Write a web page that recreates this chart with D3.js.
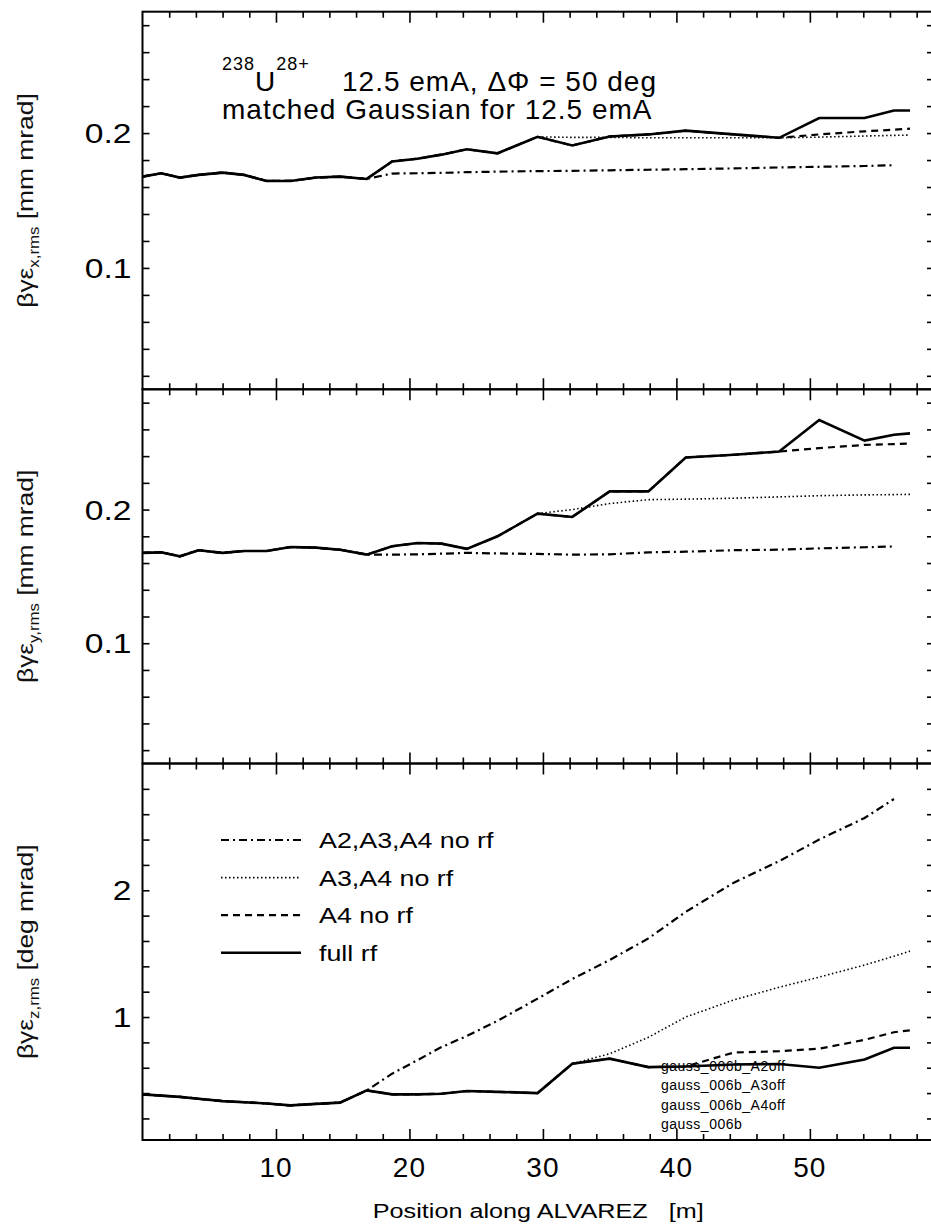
<!DOCTYPE html>
<html lang="en">
<head>
    <meta charset="UTF-8">
    <title>Emittance along ALVAREZ</title>
    <style>
        body { margin: 0; background: #fff; }
        svg { display: block; font-family: "Liberation Sans", Arial, sans-serif; }
    </style>
</head>
<body>
    <div class="canvas"></div>

    <script src="https://cdnjs.cloudflare.com/ajax/libs/d3/7.8.5/d3.min.js"></script>
    <script>
        // positions along the Alvarez [m], shared by all runs
        const position = [0, 1.4, 2.8, 4.2, 6, 7.6, 9.3, 11.1, 13, 14.8, 16.8, 18.7, 20.6, 22.4, 24.3, 26.6, 29.6, 32.2, 35, 37.9, 40.7, 44.3, 47.7, 50.7, 54.1, 56.3, 57.5];

        // horizontal emittance [mm mrad]
        const xFullRf = [0.1677, 0.1702, 0.167, 0.169, 0.1707, 0.169, 0.1645, 0.1645, 0.167, 0.1677, 0.166, 0.179, 0.181, 0.184, 0.188, 0.185, 0.1972, 0.1908, 0.1975, 0.199, 0.2018, 0.199, 0.1965, 0.2112, 0.2112, 0.2167, 0.2167];
        const xA4NoRf = [0.1677, 0.1702, 0.167, 0.169, 0.1707, 0.169, 0.1645, 0.1645, 0.167, 0.1677, 0.166, 0.179, 0.181, 0.184, 0.188, 0.185, 0.1972, 0.1908, 0.1975, 0.199, 0.2018, 0.199, 0.1965, 0.199, 0.2013, 0.2025, 0.2033];
        const xA3A4NoRf = [0.1677, 0.1702, 0.167, 0.169, 0.1707, 0.169, 0.1645, 0.1645, 0.167, 0.1677, 0.166, 0.179, 0.181, 0.184, 0.188, 0.185, 0.1972, 0.1968, 0.1968, 0.1965, 0.1965, 0.1965, 0.1965, 0.197, 0.1978, 0.1983, 0.1985];
        const xA2A3A4NoRf = [0.1677, 0.1702, 0.167, 0.169, 0.1707, 0.169, 0.1645, 0.1645, 0.167, 0.1677, 0.166, 0.170, 0.1702, 0.1705, 0.171, 0.1714, 0.1718, 0.172, 0.1724, 0.1728, 0.1732, 0.1738, 0.1745, 0.175, 0.1756, 0.1762, null];

        // vertical emittance [mm mrad]
        const yFullRf = [0.1676, 0.168, 0.165, 0.1696, 0.1676, 0.169, 0.169, 0.172, 0.1715, 0.170, 0.1663, 0.1725, 0.175, 0.1745, 0.1706, 0.180, 0.197, 0.1945, 0.2136, 0.2136, 0.239, 0.241, 0.2434, 0.267, 0.2516, 0.256, 0.257];
        const yA4NoRf = [0.1676, 0.168, 0.165, 0.1696, 0.1676, 0.169, 0.169, 0.172, 0.1715, 0.170, 0.1663, 0.1725, 0.175, 0.1745, 0.1706, 0.180, 0.197, 0.1945, 0.2136, 0.2136, 0.239, 0.241, 0.2434, 0.246, 0.2484, 0.249, 0.2494];
        const yA3A4NoRf = [0.1676, 0.168, 0.165, 0.1696, 0.1676, 0.169, 0.169, 0.172, 0.1715, 0.170, 0.1663, 0.1725, 0.175, 0.1745, 0.1706, 0.180, 0.197, 0.200, 0.2045, 0.2074, 0.2078, 0.2085, 0.2095, 0.2104, 0.211, 0.2112, 0.2114];
        const yA2A3A4NoRf = [0.1676, 0.168, 0.165, 0.1696, 0.1676, 0.169, 0.169, 0.172, 0.1715, 0.170, 0.1663, 0.1663, 0.1665, 0.167, 0.1676, 0.1672, 0.1668, 0.1663, 0.1665, 0.168, 0.1685, 0.1696, 0.170, 0.171, 0.1718, 0.1724, null];

        // longitudinal emittance [deg mrad]
        const zFullRf = [0.39, 0.38, 0.37, 0.355, 0.337, 0.328, 0.318, 0.303, 0.315, 0.325, 0.421, 0.39, 0.39, 0.395, 0.416, 0.41, 0.40, 0.632, 0.672, 0.605, 0.61, 0.625, 0.63, 0.60, 0.665, 0.758, 0.758];
        const zA4NoRf = [0.39, 0.38, 0.37, 0.355, 0.337, 0.328, 0.318, 0.303, 0.315, 0.325, 0.421, 0.39, 0.39, 0.395, 0.416, 0.41, 0.40, 0.632, 0.672, 0.605, 0.61, 0.72, 0.73, 0.75, 0.82, 0.88, 0.895];
        const zA3A4NoRf = [0.39, 0.38, 0.37, 0.355, 0.337, 0.328, 0.318, 0.303, 0.315, 0.325, 0.421, 0.39, 0.39, 0.395, 0.416, 0.41, 0.40, 0.632, 0.71, 0.84, 1.0, 1.135, 1.235, 1.315, 1.41, 1.48, 1.52];
        const zA2A3A4NoRf = [0.39, 0.38, 0.37, 0.355, 0.337, 0.328, 0.318, 0.303, 0.315, 0.325, 0.421, 0.553, 0.66, 0.763, 0.85, 0.97, 1.145, 1.30, 1.45, 1.62, 1.83, 2.06, 2.23, 2.40, 2.57, 2.72, null];

        const legendLabels = ["A2,A3,A4 no rf", "A3,A4 no rf", "A4 no rf", "full rf"];
        const runLabels = ["gauss_006b_A2off", "gauss_006b_A3off", "gauss_006b_A4off", "gauss_006b"];
        const xTickLabels = [10, 20, 30, 40, 50];
        const xMinorTicks = d3.range(2, 59, 2).filter(v => v % 10 !== 0);

        const width = 931, height = 1226;
        const left = 142.5, right = 934;
        const edges = [11.7, 389.3, 763.5, 1140];

        // line styles in legend order
        const styles = [
            { dash: "8,4,2,4", w: 2.2 },
            { dash: "1.5,2.5", w: 1.6 },
            { dash: "7,5", w: 2.2 },
            { dash: null, w: 2.6 }
        ];

        const panels = [
            { domain: [0.01, 0.29], minor: d3.range(1, 15).map(i => i * 0.02), major: [0.1, 0.2], fmt: d3.format(".1f"),
              sub: "x,rms", unit: " [mm mrad]", series: [xA2A3A4NoRf, xA3A4NoRf, xA4NoRf, xFullRf] },
            { domain: [0.01, 0.29], minor: d3.range(1, 15).map(i => i * 0.02), major: [0.1, 0.2], fmt: d3.format(".1f"),
              sub: "y,rms", unit: " [mm mrad]", series: [yA2A3A4NoRf, yA3A4NoRf, yA4NoRf, yFullRf] },
            { domain: [0.03, 3.0], minor: d3.range(1, 15).map(i => i * 0.2), major: [1, 2], fmt: d3.format("d"),
              sub: "z,rms", unit: " [deg mrad]", series: [zA2A3A4NoRf, zA3A4NoRf, zA4NoRf, zFullRf] }
        ];

        const svg = d3.select('.canvas')
            .append('svg')
            .attr('width', width)
            .attr('height', height);

        const x = d3.scaleLinear().domain([0, 59.3]).range([left, right]);

        const noDomain = g => g.select('.domain').remove();

        panels.forEach((p, i) => {
            const top = edges[i], bottom = edges[i + 1];
            const y = d3.scaleLinear().domain(p.domain).range([bottom, top]);
            const g = svg.append('g');

            g.append('rect')
                .attr('x', left).attr('y', top)
                .attr('width', right - left).attr('height', bottom - top)
                .attr('fill', 'none').attr('stroke', '#000').attr('stroke-width', 2);

            // x ticks on top and bottom edges of each panel, pointing inward
            [[d3.axisBottom, top], [d3.axisTop, bottom]].forEach(([axis, pos]) => {
                g.append('g').attr('transform', `translate(0,${pos})`)
                    .call(axis(x).tickValues(xMinorTicks).tickSize(6).tickFormat(''))
                    .call(noDomain);
                g.append('g').attr('transform', `translate(0,${pos})`)
                    .call(axis(x).tickValues(xTickLabels).tickSize(11).tickFormat(''))
                    .call(noDomain);
            });

            g.append('g').attr('transform', `translate(${left},0)`)
                .call(d3.axisRight(y).tickValues(p.minor).tickSize(7).tickFormat(''))
                .call(noDomain);
            g.append('g').attr('transform', `translate(${right},0)`)
                .call(d3.axisLeft(y).tickValues(p.minor).tickSize(7).tickFormat(''))
                .call(noDomain);
            g.selectAll('.tick line').attr('stroke-width', 1.6);

            g.selectAll('.ylab')
                .data(p.major)
                .enter()
                .append('text')
                .attr('transform', d => `translate(${left - 11},${y(d)}) scale(1.2,1)`)
                .attr('dy', '0.36em')
                .attr('text-anchor', 'end')
                .attr('font-size', 28)
                .text(p.fmt);

            const title = g.append('text')
                .attr('transform', `translate(33,${(top + bottom) / 2}) rotate(-90) scale(1.2,1)`)
                .attr('text-anchor', 'middle')
                .attr('font-size', 22)
                .attr('fill', '#111');
            title.append('tspan').text('βγε');
            title.append('tspan').attr('font-size', 14).attr('dy', 6).text(p.sub);
            title.append('tspan').attr('dy', -6).text(p.unit);

            const line = d3.line()
                .defined(d => d[1] !== null)
                .x(d => x(d[0]))
                .y(d => y(d[1]));

            p.series.forEach((s, k) => {
                g.append('path')
                    .datum(position.map((v, j) => [v, s[j]]))
                    .attr('d', line)
                    .attr('fill', 'none')
                    .attr('stroke', '#000')
                    .attr('stroke-width', styles[k].w)
                    .attr('stroke-dasharray', styles[k].dash);
            });

            if (i === 2) {
                const leg = g.selectAll('.leg')
                    .data(legendLabels)
                    .enter()
                    .append('g')
                    .attr('transform', (d, k) => `translate(0,${840 + k * 37.6})`);
                leg.append('line')
                    .attr('x1', 221).attr('x2', 301)
                    .attr('stroke', '#000')
                    .attr('stroke-width', (d, k) => styles[k].w)
                    .attr('stroke-dasharray', (d, k) => styles[k].dash);
                leg.append('text')
                    .attr('transform', 'translate(319,8) scale(1.22,1)')
                    .attr('font-size', 22)
                    .text(d => d);

                g.selectAll('.run')
                    .data(runLabels)
                    .enter()
                    .append('text')
                    .attr('x', 661)
                    .attr('y', (d, k) => 1071 + k * 19.3)
                    .attr('font-size', 14)
                    .attr('letter-spacing', 0.5)
                    .text(d => d);
            }
        });

        svg.selectAll('.xlab')
            .data(xTickLabels)
            .enter()
            .append('text')
            .attr('x', d => x(d))
            .attr('y', 1177)
            .attr('text-anchor', 'middle')
            .attr('font-size', 28)
            .attr('letter-spacing', 1)
            .text(d => d);

        svg.append('text')
            .attr('transform', `translate(${(left + right) / 2},1218) scale(1.2,1)`)
            .attr('text-anchor', 'middle')
            .attr('font-size', 21)
            .attr('xml:space', 'preserve')
            .style('white-space', 'pre')
            .text('Position along ALVAREZ   [m]');

        const head = svg.append('text')
            .attr('x', 222)
            .attr('y', 90.7)
            .attr('font-size', 28)
            .attr('letter-spacing', 1);
        head.append('tspan').attr('font-size', 18).attr('dy', -21).text('238');
        head.append('tspan').attr('dy', 21).text('U');
        head.append('tspan').attr('font-size', 18).attr('dy', -21).text('28+');
        head.append('tspan').attr('x', 342).attr('dy', 21).text('12.5 emA, ΔΦ = 50 deg');

        svg.append('text')
            .attr('x', 222)
            .attr('y', 119)
            .attr('font-size', 28)
            .attr('letter-spacing', 1)
            .text('matched Gaussian for 12.5 emA');
    </script>
</body>
</html>
